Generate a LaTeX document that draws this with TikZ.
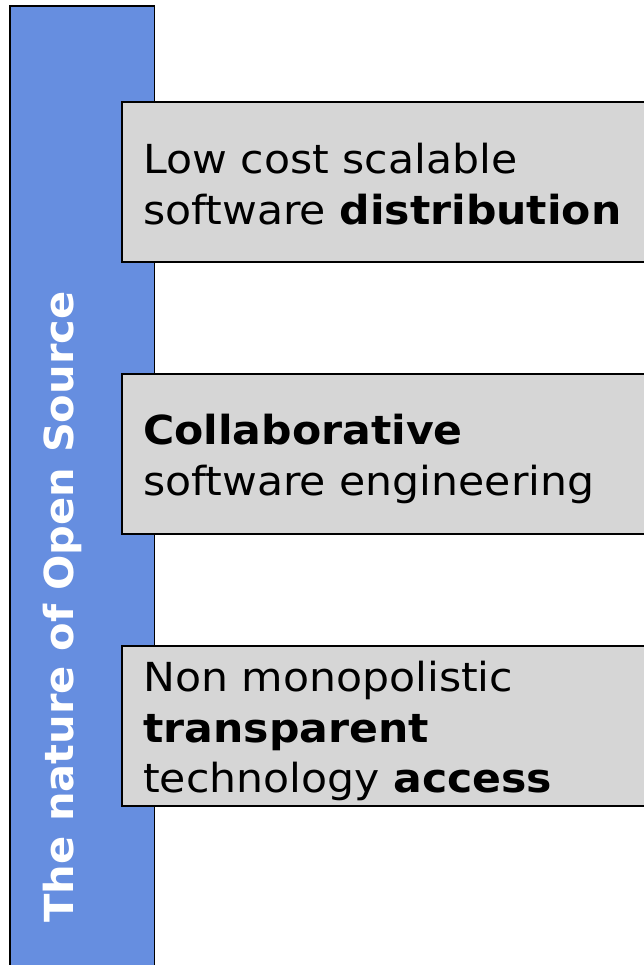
\documentclass[tikz,border=0pt]{standalone}
\usepackage{fontspec}
\setmainfont{DejaVu Sans}
\newfontfamily\cardfont[FakeStretch=1.065]{DejaVu Sans}
\newfontfamily\titlefont[FakeStretch=1.04]{DejaVu Sans}
\definecolor{barblue}{RGB}{102,142,224}
\definecolor{boxgray}{RGB}{214,214,214}
\begin{document}
\begin{tikzpicture}[x=1pt,y=1pt,
  bar/.style={draw=black,line width=1.8pt,fill=barblue},
  card/.style={draw=black,line width=1.8pt,fill=boxgray},
  cardtext/.style={anchor=west,align=left,inner sep=0pt,font=\cardfont\fontsize{40}{50.5}\selectfont}]
\useasboundingbox (0,0) rectangle (643,-965);
\path[bar] (10,-6) rectangle (154.5,-967);
\node[rotate=90,anchor=base,text=white,font=\titlefont\fontsize{40}{48}\selectfont\bfseries] (title) at (73,-607) {The nature of Open Source};
\path[card] (122,-102) rectangle (647,-262);
\path[card] (122,-374) rectangle (647,-534);
\path[card] (122,-646) rectangle (647,-806);
\node[cardtext] (t1) at (143,-184) {Low cost scalable\\software \textbf{distribution}};
\node[cardtext] (t2) at (143,-459) {\textbf{Collaborative}\\software engineering};
\node[cardtext] (t3) at (143,-731) {Non monopolistic\\\textbf{transparent}\\technology \textbf{access}};
\end{tikzpicture}
\end{document}
